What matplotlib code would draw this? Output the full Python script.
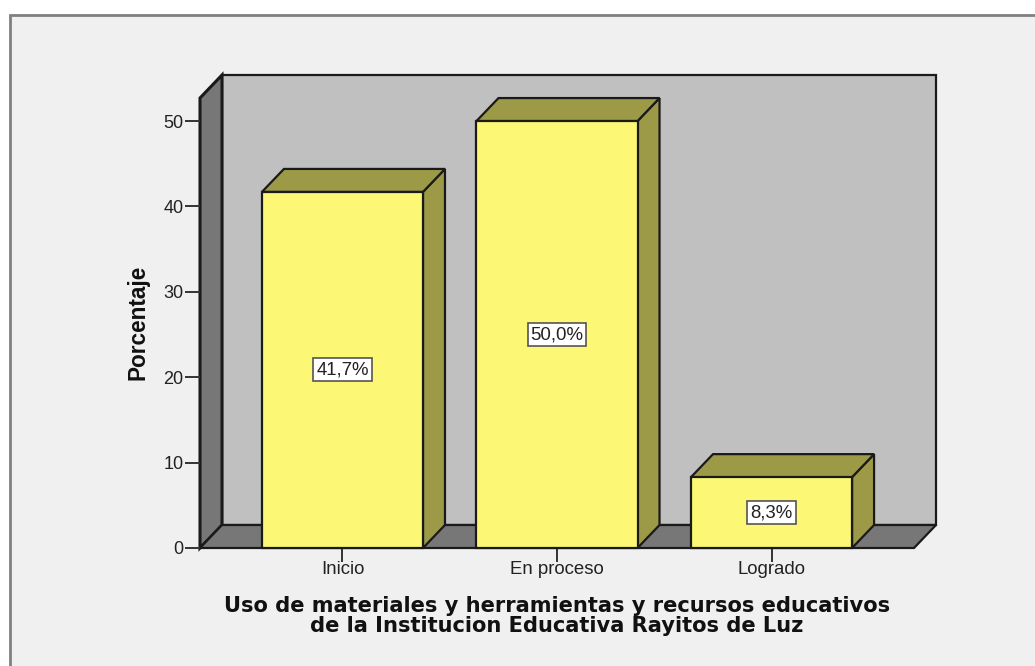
import matplotlib
matplotlib.use('Agg')
import matplotlib.pyplot as plt
from matplotlib.patches import Polygon, Rectangle

# data
categories = ['Inicio', 'En proceso', 'Logrado']
percentages = [41.7, 50.0, 8.3]
percent_labels = ['41,7%', '50,0%', '8,3%']
y_ticks = [0, 10, 20, 30, 40, 50]
x_title = 'Uso de materiales y herramientas y recursos educativos\nde la Institucion Educativa Rayitos de Luz'
y_title = 'Porcentaje'

W, H = 1035, 666
fig = plt.figure(figsize=(W / 100, H / 100), dpi=100, facecolor='white')

# grey panel behind the chart, runs off the right and bottom edges
fig.patches.append(Rectangle((9.5 / W, -0.01), 1.1, 1.01 - 14.5 / H, transform=fig.transFigure,
                             facecolor='#f0f0f0', edgecolor='#808080', linewidth=2, zorder=-1))

left, right, bottom, top = 200, 914, 548, 98
ax = fig.add_axes([left / W, 1 - bottom / H, (right - left) / W, (bottom - top) / H])
ax.patch.set_visible(False)
for s in ax.spines.values():
    s.set_visible(False)

ymax = 52.7
xmin, xmax = -0.664, 2.664
ax.set_xlim(xmin, xmax)
ax.set_ylim(0, ymax)

# depth of the 3d effect in data units
dx = 22 / 214.5
dy = 23 / 8.54
bar_w = 161 / 214.5

edge = '#1a1a1a'
wall = '#c0c0c0'
dark = '#777777'
yellow = '#fcf876'
olive = '#9d9a47'


def poly(pts, color, lw=1.6, z=1):
    ax.add_patch(Polygon(pts, closed=True, facecolor=color, edgecolor=edge, linewidth=lw,
                         joinstyle='miter', clip_on=False, zorder=z))


# back wall, side wall, floor
poly([(xmin + dx, dy), (xmax + dx, dy), (xmax + dx, ymax + dy), (xmin + dx, ymax + dy)], wall)
poly([(xmin, 0), (xmin + dx, dy), (xmin + dx, ymax + dy), (xmin, ymax)], dark, lw=2.2)
poly([(xmin, 0), (xmax, 0), (xmax + dx, dy), (xmin + dx, dy)], dark)

for i, v in enumerate(percentages):
    l = i - bar_w / 2
    r = i + bar_w / 2
    poly([(r, 0), (r + dx, dy), (r + dx, v + dy), (r, v)], olive, z=3)
    poly([(l, v), (r, v), (r + dx, v + dy), (l + dx, v + dy)], olive, z=3)
    poly([(l, 0), (r, 0), (r, v), (l, v)], yellow, z=4)
    ax.text(i, v / 2, percent_labels[i], ha='center', va='center', fontsize=13.4,
            family='Liberation Sans', color='#222222', zorder=5,
            bbox=dict(boxstyle='square,pad=0.16', facecolor='white', edgecolor='#555555', linewidth=1.2))

ax.set_xticks(range(len(categories)))
ax.set_xticklabels(categories, family='Liberation Sans', fontsize=13.4, color='#222222')
ax.set_yticks(y_ticks)
ax.set_yticklabels(y_ticks, family='Liberation Sans', fontsize=13, color='#222222')
ax.tick_params(axis='x', length=10, width=1.4, color='#333333', pad=-0.5)
ax.tick_params(axis='y', length=11, width=1.4, color='#333333', pad=1)

fig.text(557 / W, 1 - 616 / H, x_title, ha='center', va='center', family='DejaVu Sans',
         fontweight='bold', fontsize=15.1, linespacing=0.95, color='#111111')
fig.text(138 / W, 1 - 322 / H, y_title, rotation=90, ha='center', va='center',
         family='Liberation Sans', fontweight='bold', fontsize=16.3, color='#111111')

fig.savefig('out.png', dpi=100, facecolor='white')
